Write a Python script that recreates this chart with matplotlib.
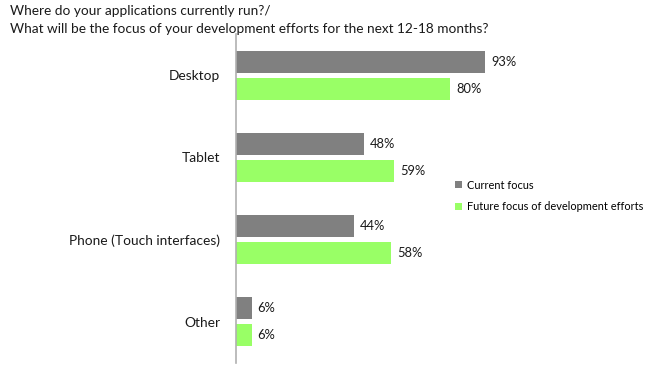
import matplotlib
matplotlib.use("Agg")
import matplotlib.pyplot as plt
import numpy as np
from matplotlib.patches import Patch

plt.rcParams['font.family'] = ['Lato', 'DejaVu Sans']

categories = ["Desktop", "Tablet", "Phone (Touch interfaces)", "Other"]
current = [93, 48, 44, 6]
future = [80, 59, 58, 6]
series_names = ["Current focus", "Future focus of development efforts"]
colors = ["#808080", "#99FF66"]
title = "Where do your applications currently run?/\nWhat will be the focus of your development efforts for the next 12-18 months?"

W, H = 650, 370
fig = plt.figure(figsize=(W / 100, H / 100), dpi=100)
x0, x1 = 235.5, 504
y0, y1 = 34, 363
ax = fig.add_axes([x0 / W, 1 - y1 / H, (x1 - x0) / W, (y1 - y0) / H])

y = np.arange(len(categories))
h = 22 / 82.25
off = 13.5 / 82.25
b1 = ax.barh(y - off, current, height=h, color=colors[0], label=series_names[0])
b2 = ax.barh(y + off, future, height=h, color=colors[1], label=series_names[1])

for bars, vals in ((b1, current), (b2, future)):
    for bar, v in zip(bars, vals):
        ax.text(bar.get_width() + 2.2, bar.get_y() + bar.get_height() / 2, f"{v}%",
                va="center", ha="left", fontsize=9.3, color="#1a1a1a")

ax.set_xlim(0, 100)
ax.set_ylim(len(categories) - 0.5, -0.5)
ax.set_yticks(y)
ax.set_yticklabels(categories, fontsize=9.9, color="#1a1a1a")
ax.tick_params(axis="y", length=0, pad=11)
ax.set_xticks([])
for s in ["top", "right", "bottom"]:
    ax.spines[s].set_visible(False)
ax.spines["left"].set_color("#b0b0b0")
ax.spines["left"].set_linewidth(1.2)
ax.patch.set_alpha(0)

fig.text(10 / W, 1 - 5 / H, title, ha="left", va="top", fontsize=9.8, color="#1a1a1a", linespacing=1.6)

handles = [Patch(facecolor=c, edgecolor="none") for c in colors]
fig.legend(handles, series_names, loc="center left", bbox_to_anchor=(455 / W, 1 - 196 / H),
           frameon=False, fontsize=7.9, handlelength=0.6, handleheight=0.6,
           handletextpad=0.5, labelspacing=1.0, borderaxespad=0, borderpad=0)

fig.savefig("out.png", dpi=100)
